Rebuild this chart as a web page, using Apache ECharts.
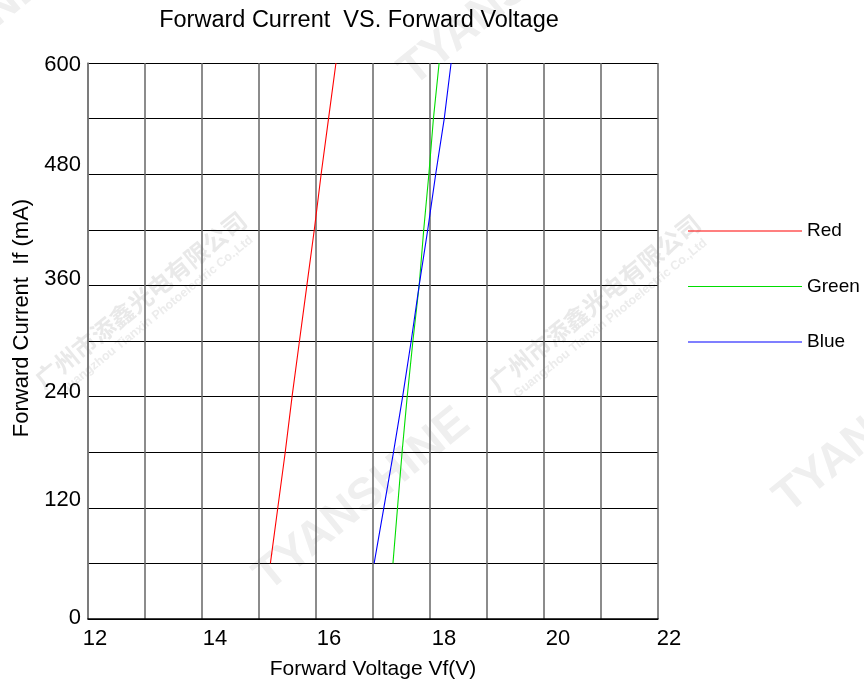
<!DOCTYPE html>
<html>
<head>
<meta charset="utf-8">
<script src="https://cdn.jsdelivr.net/npm/echarts@6/dist/echarts.min.js"></script>
<style>
html,body{margin:0;padding:0;background:#fff;}
#c{width:864px;height:685px;}
</style>
</head>
<body>
<div id="c"></div>
<script>
const seriesNames = ['Red', 'Green', 'Blue'];
const seriesColors = ['#ff0000', '#00dd00', '#0000ff'];
const current = [60, 120, 180, 240, 300, 360, 420, 480, 540, 600];
const redVoltage = [15.20, 15.33, 15.46, 15.58, 15.71, 15.84, 15.97, 16.09, 16.22, 16.35];
const greenVoltage = [17.35, 17.43, 17.51, 17.60, 17.70, 17.81, 17.89, 17.98, 18.06, 18.16];
const blueVoltage = [17.02, 17.19, 17.36, 17.52, 17.67, 17.81, 17.96, 18.10, 18.25, 18.37];
const xTicks = [12, 14, 16, 18, 20, 22];
const yTicks = [0, 120, 240, 360, 480, 600];

const voltages = [redVoltage, greenVoltage, blueVoltage];
const FONT = 'Liberation Sans, Arial, sans-serif';

// per-label nudges (px) observed in the reference
const xLabelShift = {12: 7, 14: 13, 16: 13, 18: 14, 20: 14, 22: 11};
const yLabelShift = {0: 1, 120: 8, 240: 5, 360: 6, 480: 9, 600: -2};

const xRich = {}, yRich = {};
xTicks.forEach(t => { xRich['x' + t] = {fontFamily: FONT, fontSize: 22, color: '#000', padding: [0, 0, 0, 2 * xLabelShift[t]]}; });
yTicks.forEach(t => {
  const s = yLabelShift[t];
  yRich['y' + t] = {fontFamily: FONT, fontSize: 22, color: '#000', padding: s >= 0 ? [0, 0, 2 * s, 0] : [-2 * s, 0, 0, 0]};
});

// faint background watermarks
function tyanshine(x, y) {
  return {type: 'text', x: x, y: y, rotation: 39 * Math.PI / 180, z: -10, silent: true,
    style: {text: 'TYANSHINE', fill: '#efefef', font: 'bold 46px Liberation Sans, Arial, sans-serif', textVerticalAlign: 'bottom'}};
}
function company(x, y) {
  return {type: 'group', x: x, y: y, rotation: 39 * Math.PI / 180, z: -10, silent: true, children: [
    {type: 'text', z: -10, style: {text: '广州市添鑫光电有限公司', fill: '#e9e9e9', font: 'bold 24px "Noto Sans CJK SC"', textVerticalAlign: 'middle', letterSpacing: 3}},
    {type: 'text', z: -10, x: 12, y: 22, style: {text: 'Guangzhou Tianxin Photoelectric Co.,Ltd', fill: '#ececec', font: 'bold 12.5px Liberation Sans, Arial, sans-serif', textVerticalAlign: 'middle'}}
  ]};
}

const chart = echarts.init(document.getElementById('c'), null, {renderer: 'canvas'});
chart.setOption({
  animation: false,
  backgroundColor: '#fff',
  graphic: [
    tyanshine(275, 600),
    tyanshine(420, 95),
    tyanshine(795, 522),
    tyanshine(-150, 160),
    company(38, 383),
    company(492, 386)
  ],
  title: {
    text: 'Forward Current  VS. Forward Voltage',
    left: 354, top: 4, textAlign: 'center',
    textStyle: {fontFamily: FONT, fontSize: 23.5, fontWeight: 'normal', color: '#000'}
  },
  legend: {
    orient: 'vertical',
    left: 683, top: 216,
    icon: 'rect',
    itemWidth: 114, itemHeight: 1.2, itemGap: 35.5,
    textStyle: {fontFamily: FONT, fontSize: 19, lineHeight: 20, color: '#000'},
    data: seriesNames.map((n, i) => ({name: n, itemStyle: {color: seriesColors[i]}}))
  },
  grid: {left: 88, right: 206, top: 63, bottom: 63},
  xAxis: {
    type: 'value', min: 12, max: 22, interval: 1,
    name: 'Forward Voltage Vf(V)', nameLocation: 'middle', nameGap: 40,
    nameTextStyle: {fontFamily: FONT, fontSize: 21, color: '#000'},
    axisLine: {show: true, lineStyle: {color: '#000', width: 1.5}},
    axisTick: {show: false},
    axisLabel: {
      fontFamily: FONT, fontSize: 22, color: '#000', margin: 9,
      formatter: v => xTicks.indexOf(v) >= 0 ? '{x' + v + '|' + v + '}' : '',
      rich: xRich
    },
    splitLine: {show: true, lineStyle: {color: '#666', width: 1.5}}
  },
  yAxis: {
    type: 'value', min: 0, max: 600, interval: 60,
    name: 'Forward Current  If (mA)', nameLocation: 'middle', nameGap: 51,
    nameTextStyle: {fontFamily: FONT, fontSize: 22, color: '#000', padding: [0, 0, 0, 46]},
    axisLine: {show: true, lineStyle: {color: '#777', width: 1.5}},
    axisTick: {show: false},
    axisLabel: {
      fontFamily: FONT, fontSize: 22, color: '#000', margin: 7,
      formatter: v => yTicks.indexOf(v) >= 0 ? '{y' + v + '|' + v + '}' : '',
      rich: yRich
    },
    splitLine: {show: true, lineStyle: {color: '#000', width: 1}}
  },
  series: seriesNames.map((n, i) => ({
    name: n,
    type: 'line',
    symbol: 'none',
    color: seriesColors[i],
    lineStyle: {width: 1.1, color: seriesColors[i]},
    data: voltages[i].map((v, j) => [v, current[j]])
  }))
});
</script>
</body>
</html>
